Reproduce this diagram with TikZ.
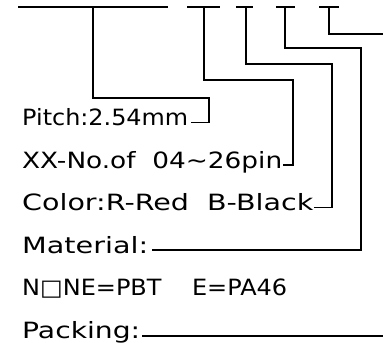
\documentclass[tikz,border=0pt]{standalone}
\usepackage{fontspec}
\setmainfont{DejaVu Sans}
\usepackage{graphicx}
\newcommand{\fittext}[2]{\resizebox{#1bp}{\height}{#2}}
\begin{document}
\begin{tikzpicture}[x=1bp,y=-1bp,
  lbl/.style={anchor=base west, inner sep=0pt, font=\fontsize{22.5}{27}\selectfont},
  conn/.style={line width=1.6bp, line cap=butt, line join=miter}]
\useasboundingbox (0,0) rectangle (383,343);
% text labels
\node[lbl] (pitch) at (22,125.5) {\fittext{166}{Pitch:2.54mm}};
\node[lbl] (pins)  at (22,168)   {\fittext{260}{XX-No.of\ \ 04\char"7E 26pin}};
\node[lbl] (color) at (22,210.5) {\fittext{291}{Color:R-Red\ \ B-Black}};
\node[lbl] (mat)   at (22,253)   {\fittext{126}{Material:}};
\node[lbl] (none)  at (22,295.5) {\fittext{265}{N□NE=PBT\ \ \ \ E=PA46}};
\node[lbl] (pack)  at (22,338)   {\fittext{118}{Packing:}};
% bars
\coordinate (b1l) at (18,7);  \coordinate (b1r) at (168,7);
\coordinate (b2l) at (187,7); \coordinate (b2r) at (220,7);
\coordinate (b3l) at (236,7); \coordinate (b3r) at (253,7);
\coordinate (b4l) at (276,7); \coordinate (b4r) at (295,7);
\coordinate (b5l) at (319,7); \coordinate (b5r) at (339,7);
\foreach \i in {1,...,5} { \draw[conn] (b\i l) -- (b\i r); }
% stems
\coordinate (s1) at (93,7);  \coordinate (k1) at (209,98);  \coordinate (h1) at (191,122.5);
\coordinate (s2) at (204,7); \coordinate (k2) at (293,80);  \coordinate (h2) at (283,165);
\coordinate (s3) at (246,7); \coordinate (k3) at (332,64);  \coordinate (h3) at (314,207.5);
\coordinate (s4) at (285,7); \coordinate (k4) at (361,48);  \coordinate (h4) at (152,250);
\coordinate (s5) at (329,7); \coordinate (k5) at (383,34);
\coordinate (p1) at (142,336); \coordinate (p2) at (383,336);
\draw[conn] (s1) |- (k1) |- (h1);
\draw[conn] (s2) |- (k2) |- (h2);
\draw[conn] (s3) |- (k3) |- (h3);
\draw[conn] (s4) |- (k4) |- (h4);
\draw[conn] (s5) |- (k5);
\draw[conn] (p1) -- (p2);
\end{tikzpicture}
\end{document}
